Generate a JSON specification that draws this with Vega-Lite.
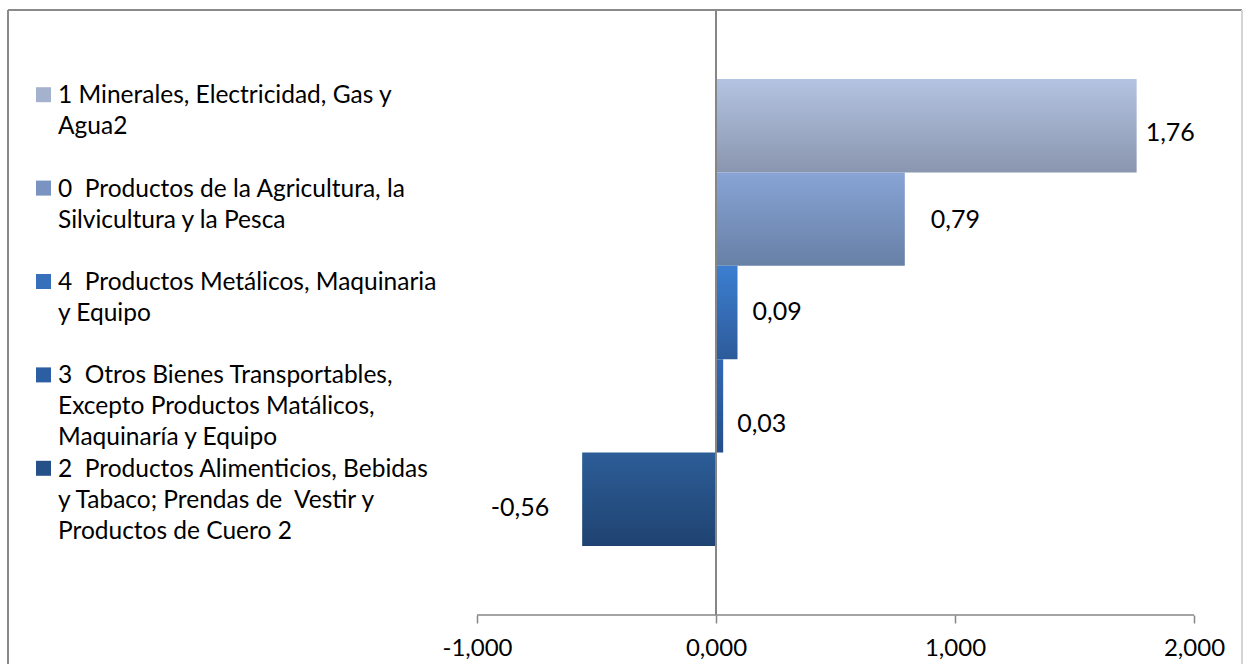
{
  "$schema": "https://vega.github.io/schema/vega-lite/v6.json",
  "autosize": "none",
  "width": 1234,
  "height": 654,
  "padding": {"left": 8, "top": 10, "right": 1, "bottom": 0},
  "background": "white",
  "config": {
    "view": {"stroke": null},
    "font": "Lato",
    "axisX": {"domain": false, "grid": false, "tickSize": 8, "tickColor": "#868686", "tickWidth": 1.5, "labelFont": "Lato", "labelFontSize": 24, "labelColor": "#000000", "labelPadding": 13, "labelFlush": false, "labelOverlap": false, "titleOpacity": 0},
    "locale": {"number": {"decimal": ",", "thousands": ".", "grouping": [3], "currency": ["", ""], "minus": "-"}}
  },
  "data": {"values": [
    {"codigo": "1", "serie": "1 Minerales, Electricidad, Gas y\nAgua2", "valor": 1.76},
    {"codigo": "0", "serie": "0\u00a0 Productos de la Agricultura, la\nSilvicultura y la Pesca", "valor": 0.79},
    {"codigo": "4", "serie": "4\u00a0 Productos Metálicos, Maquinaria\ny Equipo", "valor": 0.09},
    {"codigo": "3", "serie": "3\u00a0 Otros Bienes Transportables,\nExcepto Productos Matálicos,\nMaquinaría y Equipo", "valor": 0.03},
    {"codigo": "2", "serie": "2\u00a0 Productos Alimenticios, Bebidas\ny Tabaco; Prendas de\u00a0 Vestir y\nProductos de Cuero 2", "valor": -0.56}
  ]},
  "layer": [
    {
      "transform": [{"filter": "datum.codigo === '1'"}],
      "mark": {"type": "bar", "color": {"gradient": "linear", "x1": 0, "y1": 0, "x2": 0, "y2": 1, "stops": [{"offset": 0, "color": "#b3c3e1"}, {"offset": 1, "color": "#8a96af"}]}},
      "encoding": {
        "x": {"field": "valor", "type": "quantitative", "scale": {"domain": [-2.96234, 2.20084], "nice": false, "zero": false},
              "axis": {"values": [-1, 0, 1, 2], "format": ".3f", "offset": -49, "title": null}},
        "x2": {"datum": 0},
        "y": {"datum": "cat", "type": "nominal", "scale": {"type": "band", "domain": ["cat"], "paddingInner": 0, "paddingOuter": 0.040496, "align": 0}, "axis": null},
        "yOffset": {"field": "codigo", "type": "nominal", "scale": {"domain": ["1", "0", "4", "3", "2"], "paddingInner": 0, "paddingOuter": 0.739}}
      }
    },
    {
      "transform": [{"filter": "datum.codigo === '0'"}],
      "mark": {"type": "bar", "color": {"gradient": "linear", "x1": 0, "y1": 0, "x2": 0, "y2": 1, "stops": [{"offset": 0, "color": "#88a4d5"}, {"offset": 1, "color": "#6680a6"}]}},
      "encoding": {
        "x": {"field": "valor", "type": "quantitative"},
        "x2": {"datum": 0},
        "y": {"datum": "cat", "type": "nominal", "axis": null},
        "yOffset": {"field": "codigo", "type": "nominal"}
      }
    },
    {
      "transform": [{"filter": "datum.codigo === '4'"}],
      "mark": {"type": "bar", "color": {"gradient": "linear", "x1": 0, "y1": 0, "x2": 0, "y2": 1, "stops": [{"offset": 0, "color": "#3c7ed1"}, {"offset": 1, "color": "#2d5b9a"}]}},
      "encoding": {
        "x": {"field": "valor", "type": "quantitative"},
        "x2": {"datum": 0},
        "y": {"datum": "cat", "type": "nominal", "axis": null},
        "yOffset": {"field": "codigo", "type": "nominal"}
      }
    },
    {
      "transform": [{"filter": "datum.codigo === '3'"}],
      "mark": {"type": "bar", "color": {"gradient": "linear", "x1": 0, "y1": 0, "x2": 0, "y2": 1, "stops": [{"offset": 0, "color": "#3168b5"}, {"offset": 1, "color": "#244f8c"}]}},
      "encoding": {
        "x": {"field": "valor", "type": "quantitative"},
        "x2": {"datum": 0},
        "y": {"datum": "cat", "type": "nominal", "axis": null},
        "yOffset": {"field": "codigo", "type": "nominal"}
      }
    },
    {
      "transform": [{"filter": "datum.codigo === '2'"}],
      "mark": {"type": "bar", "color": {"gradient": "linear", "x1": 0, "y1": 0, "x2": 0, "y2": 1, "stops": [{"offset": 0, "color": "#2c5d97"}, {"offset": 1, "color": "#1f4371"}]}},
      "encoding": {
        "x": {"field": "valor", "type": "quantitative"},
        "x2": {"datum": 0},
        "y": {"datum": "cat", "type": "nominal", "axis": null},
        "yOffset": {"field": "codigo", "type": "nominal"}
      }
    },
    {
      "transform": [{"filter": "datum.codigo === '1'"}],
      "mark": {"type": "text", "align": "left", "baseline": "middle", "dx": 9, "dy": 7, "fontSize": 25, "font": "Lato", "color": "#000000"},
      "encoding": {
        "x": {"field": "valor", "type": "quantitative"},
        "y": {"datum": "cat", "type": "nominal", "axis": null},
        "yOffset": {"field": "codigo", "type": "nominal"},
        "text": {"field": "valor", "type": "quantitative", "format": ".2f"}
      }
    },
    {
      "transform": [{"filter": "datum.codigo === '0'"}],
      "mark": {"type": "text", "align": "left", "baseline": "middle", "dx": 26, "dy": 1, "fontSize": 25, "font": "Lato", "color": "#000000"},
      "encoding": {
        "x": {"field": "valor", "type": "quantitative"},
        "y": {"datum": "cat", "type": "nominal", "axis": null},
        "yOffset": {"field": "codigo", "type": "nominal"},
        "text": {"field": "valor", "type": "quantitative", "format": ".2f"}
      }
    },
    {
      "transform": [{"filter": "datum.codigo === '4'"}],
      "mark": {"type": "text", "align": "left", "baseline": "middle", "dx": 15, "dy": 0, "fontSize": 25, "font": "Lato", "color": "#000000"},
      "encoding": {
        "x": {"field": "valor", "type": "quantitative"},
        "y": {"datum": "cat", "type": "nominal", "axis": null},
        "yOffset": {"field": "codigo", "type": "nominal"},
        "text": {"field": "valor", "type": "quantitative", "format": ".2f"}
      }
    },
    {
      "transform": [{"filter": "datum.codigo === '3'"}],
      "mark": {"type": "text", "align": "left", "baseline": "middle", "dx": 14, "dy": 18, "fontSize": 25, "font": "Lato", "color": "#000000"},
      "encoding": {
        "x": {"field": "valor", "type": "quantitative"},
        "y": {"datum": "cat", "type": "nominal", "axis": null},
        "yOffset": {"field": "codigo", "type": "nominal"},
        "text": {"field": "valor", "type": "quantitative", "format": ".2f"}
      }
    },
    {
      "transform": [{"filter": "datum.codigo === '2'"}],
      "mark": {"type": "text", "align": "right", "baseline": "middle", "dx": -33, "dy": 9, "fontSize": 25, "font": "Lato", "color": "#000000"},
      "encoding": {
        "x": {"field": "valor", "type": "quantitative"},
        "y": {"datum": "cat", "type": "nominal", "axis": null},
        "yOffset": {"field": "codigo", "type": "nominal"},
        "text": {"field": "valor", "type": "quantitative", "format": ".2f"}
      }
    },
    {
      "data": {"values": [{}]},
      "mark": {"type": "bar", "color": "#868686"},
      "encoding": {
        "x": {"datum": -0.0042, "type": "quantitative"},
        "x2": {"datum": 0.0042},
        "y": {"datum": "cat", "type": "nominal", "axis": null}
      }
    },
    {
      "data": {"values": [{}]},
      "mark": {"type": "rule", "color": "#868686", "strokeWidth": 1.5},
      "encoding": {
        "x": {"datum": -1, "type": "quantitative"},
        "x2": {"datum": 2},
        "y": {"datum": "cat", "type": "nominal", "bandPosition": 1, "axis": null}
      }
    },
    {
      "data": {"values": [{}]},
      "mark": {"type": "rule", "color": "#8a8a8a", "strokeWidth": 2},
      "encoding": {
        "y": {"datum": "cat", "type": "nominal", "bandPosition": 0, "axis": null}
      }
    },
    {
      "data": {"values": [{}]},
      "mark": {"type": "rule", "color": "#8a8a8a", "strokeWidth": 2},
      "encoding": {
        "x": {"datum": -2.96234, "type": "quantitative"}
      }
    },
    {
      "data": {"values": [{}]},
      "mark": {"type": "rule", "color": "#d4d4d4", "strokeWidth": 2},
      "encoding": {
        "x": {"datum": 2.20084, "type": "quantitative"}
      }
    },
    {
      "mark": {"type": "point", "shape": "M-1,-5.1333H1V-3.1333H-1Z", "size": 225, "filled": true, "opacity": 1, "strokeWidth": 0},
      "encoding": {
        "x": {"datum": -2.8138, "type": "quantitative"},
        "y": {"datum": "cat", "type": "nominal", "axis": null},
        "yOffset": {"field": "codigo", "type": "nominal"},
        "color": {"field": "codigo", "type": "nominal", "scale": {"domain": ["1", "0", "4", "3", "2"], "range": ["#a4b2cd", "#7a93c0", "#3670ba", "#2b5ea3", "#265088"]}, "legend": null}
      }
    },
    {
      "mark": {"type": "text", "align": "left", "baseline": "alphabetic", "dy": -22.5, "lineBreak": "\n", "lineHeight": 31, "fontSize": 24.5, "font": "Lato", "color": "#000000"},
      "encoding": {
        "x": {"datum": -2.75313, "type": "quantitative"},
        "y": {"datum": "cat", "type": "nominal", "axis": null},
        "yOffset": {"field": "codigo", "type": "nominal"},
        "text": {"field": "serie", "type": "nominal"}
      }
    }
  ]
}
